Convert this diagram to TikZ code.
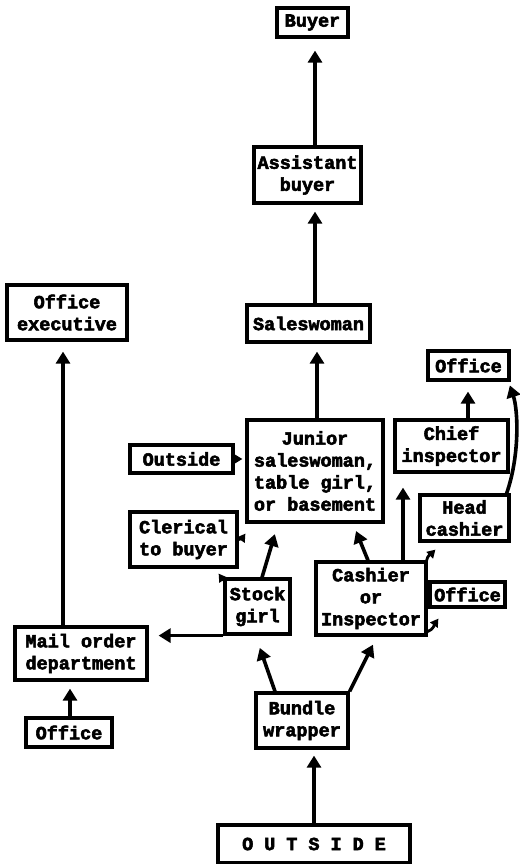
\documentclass[tikz,border=0pt]{standalone}
\usepackage{fontspec}
\setmainfont{Liberation Mono}[UprightFeatures={FakeBold=3}, BoldFeatures={FakeBold=3}]
\usetikzlibrary{arrows.meta}
\tikzset{
  box/.style={draw, line width=3.2pt, align=center, inner sep=0pt,
    font=\bfseries\fontsize{18.5}{22}\selectfont},
  arr/.style={line width=3.6pt, -{Triangle[length=12pt,width=14pt]}},
  sarr/.style={line width=2.8pt, -{Triangle[length=8pt,width=9pt]}},
}
\begin{document}
\begin{tikzpicture}[x=1pt,y=-1pt]
\useasboundingbox (0,0) rectangle (519,864);
% nodes
\node[box, minimum width=71pt, minimum height=29pt] (buyer) at (312.5,22.5) {Buyer};
\node[box, minimum width=107pt, minimum height=56pt] (asst) at (307.5,175) {Assistant\\buyer};
\node[box, minimum width=123pt, minimum height=37pt] (sales) at (308.5,323.5) {Saleswoman};
\node[box, minimum width=136pt, minimum height=102pt] (junior) at (315,471) {Junior\\saleswoman,\\table girl,\\or basement};
\node[box, minimum width=81pt, minimum height=29pt] (officeTR) at (468.5,365.5) {Office};
\node[box, minimum width=113pt, minimum height=52pt] (chief) at (451.5,446) {Chief\\inspector};
\node[box, minimum width=89pt, minimum height=46pt] (head) at (464.5,518) {Head\\cashier};
\node[box, minimum width=103pt, minimum height=28pt] (outL) at (181.5,459) {Outside};
\node[box, minimum width=107pt, minimum height=55pt] (clerical) at (183.5,539.5) {Clerical\\to buyer};
\node[box, minimum width=120pt, minimum height=55pt] (offexec) at (67,312.5) {Office\\executive};
\node[box, minimum width=65pt, minimum height=55pt] (stock) at (257.5,606.5) {Stock\\girl};
\node[box, minimum width=110pt, minimum height=73pt] (cashier) at (371,598.5) {Cashier\\or\\Inspector};
\node[box, minimum width=75pt, minimum height=25pt] (officeMR) at (467.5,594.5) {Office};
\node[box, minimum width=132pt, minimum height=53pt] (mail) at (81,653.5) {Mail order\\department};
\node[box, minimum width=86pt, minimum height=29pt] (officeBL) at (69,732.5) {Office};
\node[box, minimum width=92pt, minimum height=55pt] (bundle) at (302,720.5) {Bundle\\wrapper};
\node[box, minimum width=192pt, minimum height=38pt] (outside) at (314,844) {O\hspace{11pt}U\hspace{11pt}T\hspace{11pt}S\hspace{11pt}I\hspace{11pt}D\hspace{11pt}E};
% main arrows
\draw[arr, shorten >=12pt] ([xshift=7.5pt]asst.north) -- ([xshift=2.5pt]buyer.south);
\draw[arr, shorten >=7pt] ([xshift=6.5pt]sales.north) -- ([xshift=7.5pt]asst.south);
\draw[arr, shorten >=8pt] ([xshift=2pt]junior.north) -- ([xshift=8.5pt]sales.south);
\draw[arr, shorten >=10pt] ([xshift=16.5pt]chief.north) -- ([xshift=16.5pt]chief.north |- officeTR.south);
\draw[arr, shorten >=4pt] ([xshift=-4pt]head.north east) .. controls (520,455) and (518,410) .. ([xshift=-2pt]officeTR.south east);
\draw[arr, shorten >=14pt] ([xshift=32pt]cashier.north) -- ([xshift=32pt]cashier.north |- chief.south);
\draw[arr, shorten >=8pt] ([xshift=-3pt]cashier.north) -- ([xshift=38pt]junior.south);
\draw[arr, shorten >=11pt] ([xshift=4.5pt]stock.north) -- ([xshift=-37pt]junior.south);
\draw[arr, shorten >=10pt] (stock.south west) -- (stock.south west -| mail.east);
\draw[arr, shorten >=10pt] ([xshift=-18pt]mail.north) -- ([xshift=-18pt]mail.north |- offexec.south);
\draw[arr, shorten >=7pt] ([xshift=1pt]officeBL.north) -- ([xshift=1pt]officeBL.north |- mail.south);
\draw[arr, shorten >=13pt] ([xshift=-27pt]bundle.north) -- ([xshift=-2pt]stock.south);
\draw[arr, shorten >=9pt] (bundle.north east) -- ([xshift=6pt]cashier.south);
\draw[arr, shorten >=6pt] (outside.north) -- (outside.north |- bundle.south);
% small arrows
\draw[sarr, shorten >=3pt] (outL.east) -- (outL.east -| junior.west);
\draw[sarr] (clerical.east) to[out=10,in=235] ([yshift=-10pt]junior.south west);
\draw[sarr] ([yshift=-3pt]stock.north west) -- ([xshift=-20pt,yshift=-5pt]clerical.south east);
\draw[sarr] ([xshift=-1pt]cashier.north east) to[out=80,in=225] ([xshift=17pt,yshift=-7pt]head.south west);
\draw[sarr] ([yshift=5pt]cashier.south east) to[out=20,in=235] ([xshift=10pt,yshift=-10pt]officeMR.south west);
\end{tikzpicture}
\end{document}
